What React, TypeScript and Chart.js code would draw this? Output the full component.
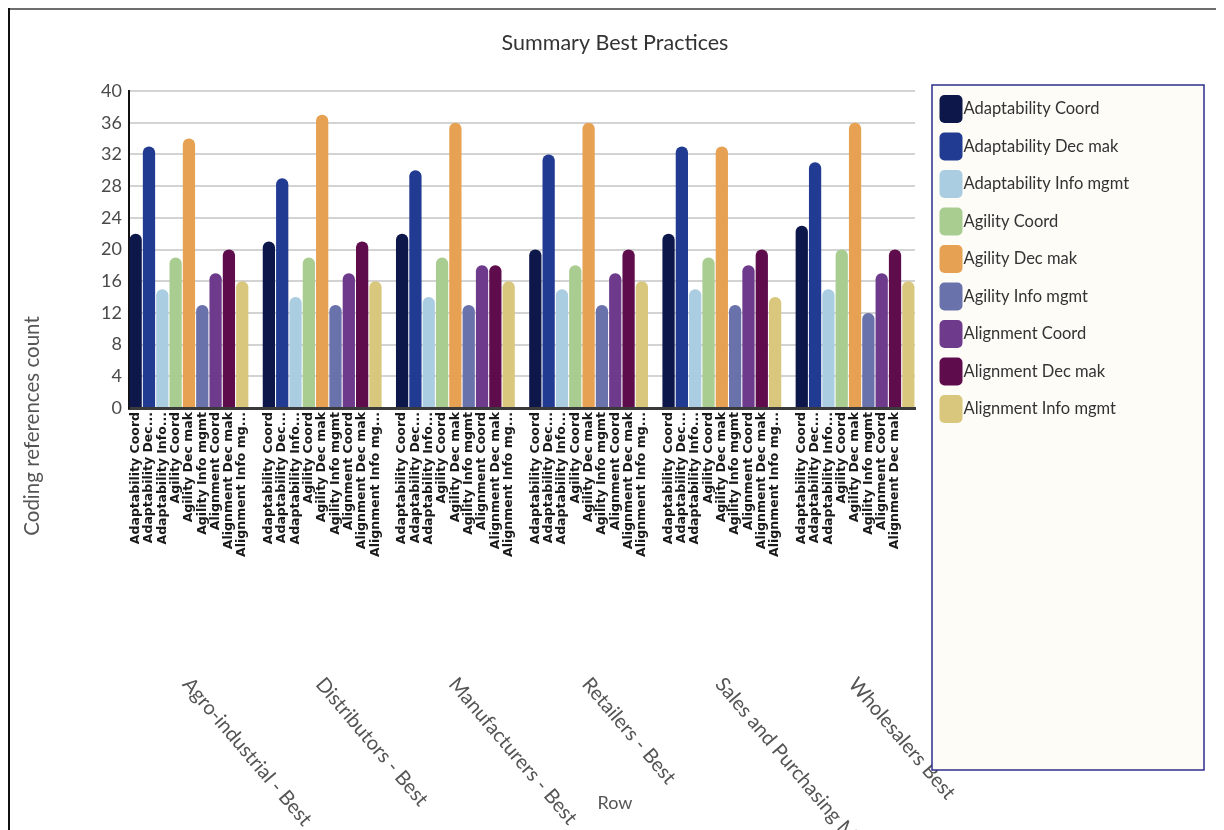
import React, { useEffect, useRef } from 'react';
import { Chart, registerables } from 'chart.js';

Chart.register(...registerables);

// ---- data ----
const chartTitle = 'Summary Best Practices';
const xTitle = 'Row';
const yTitle = 'Coding references count';

const groupLabels = [
  'Agro-industrial - Best',
  'Distributors - Best',
  'Manufacturers - Best',
  'Retailers - Best',
  'Sales and Purchasing M...',
  'Wholesalers Best',
];

const seriesNames = [
  'Adaptability Coord',
  'Adaptability Dec mak',
  'Adaptability Info mgmt',
  'Agility Coord',
  'Agility Dec mak',
  'Agility Info mgmt',
  'Alignment Coord',
  'Alignment Dec mak',
  'Alignment Info mgmt',
];

// per-bar tick labels as shown under the bars (truncated like the original)
const barTickLabels = [
  'Adaptability Coord',
  'Adaptability Dec...',
  'Adaptability Info...',
  'Agility Coord',
  'Agility Dec mak',
  'Agility Info mgmt',
  'Alignment Coord',
  'Alignment Dec mak',
  'Alignment Info mg...',
];

// one value per group (Agro, Distributors, Manufacturers, Retailers, Sales, Wholesalers)
const adaptabilityCoord = [22, 21, 22, 20, 22, 23];
const adaptabilityDecMak = [33, 29, 30, 32, 33, 31];
const adaptabilityInfoMgmt = [15, 14, 14, 15, 15, 15];
const agilityCoord = [19, 19, 19, 18, 19, 20];
const agilityDecMak = [34, 37, 36, 36, 33, 36];
const agilityInfoMgmt = [13, 13, 13, 13, 13, 12];
const alignmentCoord = [17, 17, 18, 17, 18, 17];
const alignmentDecMak = [20, 21, 18, 20, 20, 20];
const alignmentInfoMgmt = [16, 16, 16, 16, 14, 16];

const seriesValues = [
  adaptabilityCoord,
  adaptabilityDecMak,
  adaptabilityInfoMgmt,
  agilityCoord,
  agilityDecMak,
  agilityInfoMgmt,
  alignmentCoord,
  alignmentDecMak,
  alignmentInfoMgmt,
];

const seriesColors = [
  '#0e1749',
  '#213b92',
  '#abcde2',
  '#a9cd91',
  '#e6a152',
  '#6a72ab',
  '#6e3b8c',
  '#5f0c4d',
  '#d8c77d',
];

const yMin = 0;
const yMax = 40;
const yStep = 4;

// ---- layout helpers ----
const SLOTS_PER_GROUP = 10; // 9 bars + 1 gap
const nGroups = groupLabels.length;
const nSeries = seriesNames.length;
const totalSlots = nGroups * SLOTS_PER_GROUP - 1;

const slotLabels: string[] = [];
for (let i = 0; i < totalSlots; i++) {
  const j = i % SLOTS_PER_GROUP;
  slotLabels.push(j < nSeries ? barTickLabels[j] : '');
}
// the last bar label is not shown in the original
slotLabels[totalSlots - 1] = '';

const datasets = seriesNames.map((name, s) => {
  const data: (number | null)[] = new Array(totalSlots).fill(null);
  seriesValues[s].forEach((v, g) => {
    data[g * SLOTS_PER_GROUP + s] = v;
  });
  return {
    label: name,
    data,
    backgroundColor: seriesColors[s],
    borderRadius: 6,
    borderSkipped: 'start' as const,
    barPercentage: 0.92,
    categoryPercentage: 1.0,
  };
});

const FONT = 'Lato, "Open Sans", sans-serif';

const decorPlugin = {
  id: 'decor',
  afterDraw(chart: any) {
    const ctx = chart.ctx as CanvasRenderingContext2D;
    const xs = chart.scales.x;
    const area = chart.chartArea;
    ctx.save();

    // title
    ctx.font = `21.5px ${FONT}`;
    ctx.fillStyle = '#333';
    ctx.textAlign = 'center';
    ctx.textBaseline = 'middle';
    ctx.fillText(chartTitle, chart.width / 2, 33);

    // group labels (rotated clockwise)
    ctx.font = `20px ${FONT}`;
    ctx.fillStyle = '#555';
    ctx.textAlign = 'left';
    ctx.textBaseline = 'top';
    groupLabels.forEach((g, gi) => {
      const cx = xs.getPixelForValue(gi * SLOTS_PER_GROUP + 4);
      ctx.save();
      ctx.translate(cx + 5, 664);
      ctx.rotate((49.6 * Math.PI) / 180);
      ctx.fillText(g, 0, 0);
      ctx.restore();
    });

    // x title
    ctx.font = `18px ${FONT}`;
    ctx.fillStyle = '#555';
    ctx.textAlign = 'center';
    ctx.textBaseline = 'middle';
    ctx.fillText(xTitle, chart.width / 2, 793);

    // y title
    ctx.save();
    ctx.font = `20.5px ${FONT}`;
    ctx.translate(22, 416);
    ctx.rotate(-Math.PI / 2);
    ctx.fillText(yTitle, 0, 0);
    ctx.restore();

    // legend box
    const lx = area.right + 17;
    const ly = 75;
    const lw = 272;
    const lh = 685;
    ctx.fillStyle = '#fdfcf7';
    ctx.fillRect(lx, ly, lw, lh);
    ctx.strokeStyle = '#2e2e8e';
    ctx.lineWidth = 1.5;
    ctx.strokeRect(lx, ly, lw, lh);

    ctx.font = `16.5px ${FONT}`;
    ctx.textAlign = 'left';
    ctx.textBaseline = 'middle';
    chart.data.datasets.forEach((ds: any, i: number) => {
      const bx = lx + 7.5;
      const by = ly + 10 + i * 37.5;
      ctx.fillStyle = ds.backgroundColor;
      ctx.beginPath();
      (ctx as any).roundRect(bx, by, 23, 28, 5);
      ctx.fill();
      ctx.fillStyle = '#333';
      ctx.fillText(ds.label, bx + 24, by + 14);
    });

    ctx.restore();
  },
};

export default function App() {
  const canvasRef = useRef<HTMLCanvasElement | null>(null);

  useEffect(() => {
    if (!canvasRef.current) return;
    const chart = new Chart(canvasRef.current, {
      type: 'bar',
      data: { labels: slotLabels, datasets },
      options: {
        animation: false,
        responsive: false,
        devicePixelRatio: 1,
        layout: { padding: { left: 0, right: 305, top: 81, bottom: 0 } },
        datasets: { bar: { skipNull: true } } as any,
        plugins: {
          legend: { display: false },
          tooltip: { enabled: false },
          title: { display: false },
        },
        scales: {
          x: {
            type: 'category',
            offset: true,
            grid: { display: false, drawTicks: false },
            border: { display: true, color: '#3a3a3a', width: 3 },
            ticks: {
              autoSkip: false,
              maxRotation: 90,
              minRotation: 90,
              padding: 4,
              color: '#1a1a1a',
              font: { family: 'DejaVu Sans', size: 12.5, weight: 'bold' },
            },
            afterFit: (scale: any) => {
              scale.height = 422;
            },
          },
          y: {
            min: yMin,
            max: yMax,
            grid: { color: '#d3d3d3', lineWidth: 2, drawTicks: false },
            border: { display: true, color: '#111', width: 2 },
            ticks: {
              stepSize: yStep,
              padding: 7,
              color: '#4a4a4a',
              font: { family: FONT, size: 18 },
            },
            afterFit: (scale: any) => {
              scale.width = 119;
            },
          },
        },
      },
      plugins: [decorPlugin],
    });
    return () => chart.destroy();
  }, []);

  return (
    <div
      style={{
        position: 'relative',
        marginTop: -4,
        marginLeft: -1,
        width: 1215,
        height: 826,
        boxSizing: 'border-box',
        borderTop: '3px solid #bdbdbd',
        paddingTop: 3,
        boxShadow: 'inset 0 3px 0 #6d6d6d',
        borderLeft: '3px solid #111',
        borderRight: '2px solid #555',
        background: '#fff',
        overflow: 'hidden',
      }}
    >
      <canvas ref={canvasRef} width={1210} height={820} style={{ display: 'block', width: 1210, height: 820 }} />
    </div>
  );
}
